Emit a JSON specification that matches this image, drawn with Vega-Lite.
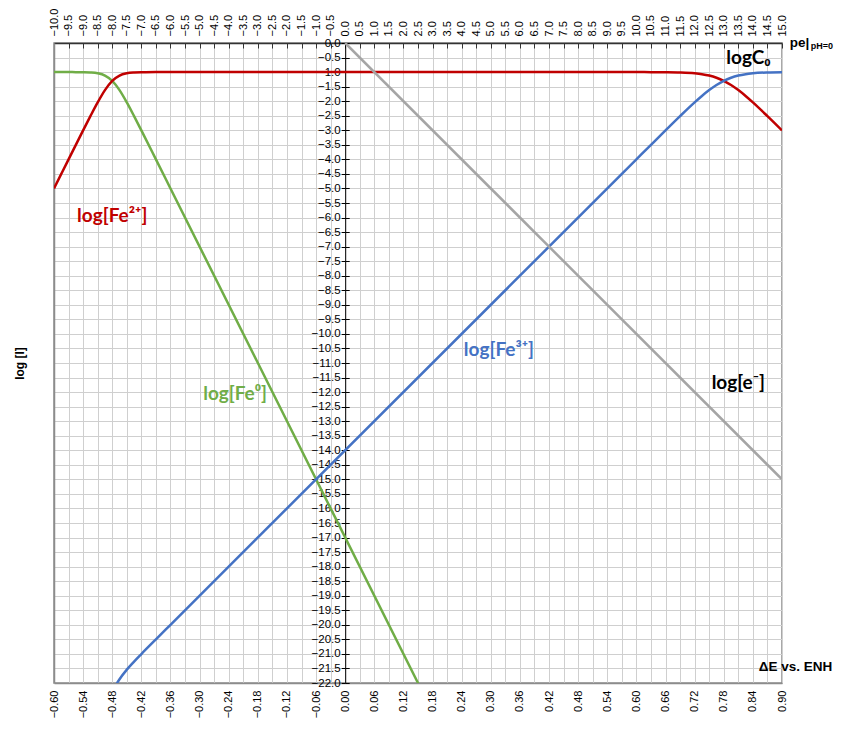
{
  "$schema": "https://vega.github.io/schema/vega-lite/v6.json",
  "width": 728,
  "height": 640,
  "autosize": {"type": "none"},
  "padding": {"left": 54, "top": 43, "right": 75, "bottom": 47},
  "background": "white",
  "config": {
    "font": "Liberation Sans",
    "view": {"stroke": "#8c8c8c", "strokeWidth": 1.5}
  },
  "datasets": {
    "curves": [
      {"pe": -10, "log": -1.0, "species": "Fe0"},
      {"pe": -9.75, "log": -1.0001, "species": "Fe0"},
      {"pe": -9.5, "log": -1.0004, "species": "Fe0"},
      {"pe": -9.25, "log": -1.0014, "species": "Fe0"},
      {"pe": -9, "log": -1.0043, "species": "Fe0"},
      {"pe": -8.75, "log": -1.0135, "species": "Fe0"},
      {"pe": -8.5, "log": -1.0414, "species": "Fe0"},
      {"pe": -8.25, "log": -1.1193, "species": "Fe0"},
      {"pe": -8, "log": -1.301, "species": "Fe0"},
      {"pe": -7.75, "log": -1.6193, "species": "Fe0"},
      {"pe": -7.5, "log": -2.0414, "species": "Fe0"},
      {"pe": -7.25, "log": -2.5135, "species": "Fe0"},
      {"pe": -7, "log": -3.0043, "species": "Fe0"},
      {"pe": -6.5, "log": -4.0004, "species": "Fe0"},
      {"pe": -6, "log": -5.0, "species": "Fe0"},
      {"pe": 2.5, "log": -22.0, "species": "Fe0"},
      {"pe": 3, "log": -23.0, "species": "Fe0"},

      {"pe": -10, "log": -5.0, "species": "Fe2"},
      {"pe": -9.75, "log": -4.5001, "species": "Fe2"},
      {"pe": -9.5, "log": -4.0004, "species": "Fe2"},
      {"pe": -9.25, "log": -3.5014, "species": "Fe2"},
      {"pe": -9, "log": -3.0043, "species": "Fe2"},
      {"pe": -8.75, "log": -2.5135, "species": "Fe2"},
      {"pe": -8.5, "log": -2.0414, "species": "Fe2"},
      {"pe": -8.25, "log": -1.6193, "species": "Fe2"},
      {"pe": -8, "log": -1.301, "species": "Fe2"},
      {"pe": -7.75, "log": -1.1193, "species": "Fe2"},
      {"pe": -7.5, "log": -1.0414, "species": "Fe2"},
      {"pe": -7.25, "log": -1.0135, "species": "Fe2"},
      {"pe": -7, "log": -1.0043, "species": "Fe2"},
      {"pe": -6.5, "log": -1.0004, "species": "Fe2"},
      {"pe": -6, "log": -1.0, "species": "Fe2"},
      {"pe": 10, "log": -1.0, "species": "Fe2"},
      {"pe": 10.5, "log": -1.0014, "species": "Fe2"},
      {"pe": 11, "log": -1.0043, "species": "Fe2"},
      {"pe": 11.5, "log": -1.0135, "species": "Fe2"},
      {"pe": 12, "log": -1.0414, "species": "Fe2"},
      {"pe": 12.25, "log": -1.0711, "species": "Fe2"},
      {"pe": 12.5, "log": -1.1193, "species": "Fe2"},
      {"pe": 12.75, "log": -1.1938, "species": "Fe2"},
      {"pe": 13, "log": -1.301, "species": "Fe2"},
      {"pe": 13.25, "log": -1.4438, "species": "Fe2"},
      {"pe": 13.5, "log": -1.6193, "species": "Fe2"},
      {"pe": 13.75, "log": -1.8211, "species": "Fe2"},
      {"pe": 14, "log": -2.0414, "species": "Fe2"},
      {"pe": 14.5, "log": -2.5135, "species": "Fe2"},
      {"pe": 15, "log": -3.0043, "species": "Fe2"},

      {"pe": -8.25, "log": -22.869, "species": "Fe3"},
      {"pe": -8, "log": -22.301, "species": "Fe3"},
      {"pe": -7.75, "log": -21.8693, "species": "Fe3"},
      {"pe": -7.5, "log": -21.5414, "species": "Fe3"},
      {"pe": -7.25, "log": -21.2635, "species": "Fe3"},
      {"pe": -7, "log": -21.0043, "species": "Fe3"},
      {"pe": -6.5, "log": -20.5004, "species": "Fe3"},
      {"pe": -6, "log": -20.0, "species": "Fe3"},
      {"pe": 10, "log": -4.0, "species": "Fe3"},
      {"pe": 10.5, "log": -3.5014, "species": "Fe3"},
      {"pe": 11, "log": -3.0043, "species": "Fe3"},
      {"pe": 11.5, "log": -2.5135, "species": "Fe3"},
      {"pe": 12, "log": -2.0414, "species": "Fe3"},
      {"pe": 12.25, "log": -1.8211, "species": "Fe3"},
      {"pe": 12.5, "log": -1.6193, "species": "Fe3"},
      {"pe": 12.75, "log": -1.4438, "species": "Fe3"},
      {"pe": 13, "log": -1.301, "species": "Fe3"},
      {"pe": 13.25, "log": -1.1938, "species": "Fe3"},
      {"pe": 13.5, "log": -1.1193, "species": "Fe3"},
      {"pe": 13.75, "log": -1.0711, "species": "Fe3"},
      {"pe": 14, "log": -1.0414, "species": "Fe3"},
      {"pe": 14.5, "log": -1.0135, "species": "Fe3"},
      {"pe": 15, "log": -1.0043, "species": "Fe3"}
    ],
    "electron": [
      {"pe": 0, "log": 0, "species": "e"},
      {"pe": 15, "log": -15, "species": "e"}
    ],
    "labels": [
      {"pe": -8.0, "log": -5.95, "text": "log[Fe²⁺]", "species": "Fe2"},
      {"pe": -3.78, "log": -12.05, "text": "log[Fe⁰]", "species": "Fe0"},
      {"pe": 5.28, "log": -10.55, "text": "log[Fe³⁺]", "species": "Fe3"},
      {"pe": 13.5, "log": -11.7, "text": "log[e⁻]", "species": "e"},
      {"pe": 13.85, "log": -0.5, "text": "logC₀", "species": "C0"}
    ],
    "titles": [
      {"pe": 15.27, "log": 0.0, "text": "pe|", "role": "main"},
      {"pe": 15.27, "log": 0.0, "text": "pH=0", "role": "sub"},
      {"pe": 14.2, "log": -21.45, "text": "ΔE vs. ENH", "role": "main"}
    ]
  },
  "layer": [
    {
      "data": {"name": "curves"},
      "mark": {"type": "line", "clip": true, "strokeWidth": 2.5, "interpolate": "monotone"},
      "encoding": {
        "x": {
          "field": "pe", "type": "quantitative",
          "scale": {"domain": [-10, 15], "nice": false, "zero": false},
          "axis": {
            "orient": "top", "title": null,
            "values": [-10,-9.5,-9,-8.5,-8,-7.5,-7,-6.5,-6,-5.5,-5,-4.5,-4,-3.5,-3,-2.5,-2,-1.5,-1,-0.5,0,0.5,1,1.5,2,2.5,3,3.5,4,4.5,5,5.5,6,6.5,7,7.5,8,8.5,9,9.5,10,10.5,11,11.5,12,12.5,13,13.5,14,14.5,15],
            "format": ".1f",
            "labelAngle": -90, "labelAlign": "left", "labelBaseline": "middle",
            "labelFontSize": 11, "labelColor": "#000000", "labelFont": "Liberation Sans",
            "labelOverlap": false, "labelFlush": false,
            "tickSize": -5, "tickColor": "#333333", "tickWidth": 1,
            "labelPadding": 12,
            "domainColor": "#333333", "domainWidth": 1.5,
            "grid": true, "gridColor": "#cfcfcf", "gridWidth": 1
          }
        },
        "y": {
          "field": "log", "type": "quantitative",
          "scale": {"domain": [-22, 0], "nice": false, "zero": false},
          "axis": {
            "orient": "left", "title": "log [I]",
            "titleFont": "Liberation Sans", "titleFontSize": 12, "titleFontWeight": "bold", "titleColor": "#000000",
            "titlePadding": 28,
            "values": [0,-0.5,-1,-1.5,-2,-2.5,-3,-3.5,-4,-4.5,-5,-5.5,-6,-6.5,-7,-7.5,-8,-8.5,-9,-9.5,-10,-10.5,-11,-11.5,-12,-12.5,-13,-13.5,-14,-14.5,-15,-15.5,-16,-16.5,-17,-17.5,-18,-18.5,-19,-19.5,-20,-20.5,-21,-21.5,-22],
            "labels": false, "ticks": false,
            "domainColor": "#8c8c8c", "domainWidth": 1.5,
            "grid": true, "gridColor": "#cfcfcf", "gridWidth": 1
          }
        },
        "color": {
          "field": "species", "type": "nominal",
          "scale": {"domain": ["Fe0", "Fe2", "Fe3"], "range": ["#70ad47", "#c00000", "#4472c4"]},
          "legend": null
        }
      }
    },
    {
      "data": {"name": "electron"},
      "mark": {"type": "line", "clip": true, "strokeWidth": 2.5, "color": "#a5a5a5"},
      "encoding": {
        "x": {"field": "pe", "type": "quantitative", "axis": null},
        "y": {
          "field": "log", "type": "quantitative",
          "axis": {
            "orient": "right", "offset": -436.8, "title": null,
            "values": [0,-0.5,-1,-1.5,-2,-2.5,-3,-3.5,-4,-4.5,-5,-5.5,-6,-6.5,-7,-7.5,-8,-8.5,-9,-9.5,-10,-10.5,-11,-11.5,-12,-12.5,-13,-13.5,-14,-14.5,-15,-15.5,-16,-16.5,-17,-17.5,-18,-18.5,-19,-19.5,-20,-20.5,-21,-21.5,-22],
            "labels": false, "domain": false, "grid": false,
            "tickSize": 4, "tickColor": "#000000", "tickWidth": 1
          }
        }
      }
    },
    {
      "data": {"name": "labels"},
      "mark": {"type": "text", "font": "Lato", "fontWeight": "bold", "fontSize": 19, "align": "center", "baseline": "middle"},
      "encoding": {
        "x": {
          "field": "pe", "type": "quantitative",
          "axis": {
            "orient": "bottom", "title": null,
            "values": [-10,-9,-8,-7,-6,-5,-4,-3,-2,-1,0,1,2,3,4,5,6,7,8,9,10,11,12,13,14,15],
            "labelExpr": "format(datum.value * 0.06, '.2f')",
            "labelAngle": -90, "labelAlign": "right", "labelBaseline": "middle",
            "labelFontSize": 11, "labelColor": "#000000", "labelFont": "Liberation Sans",
            "labelOverlap": false, "labelFlush": false,
            "ticks": false, "labelPadding": 7,
            "domainColor": "#8c8c8c", "domainWidth": 1.5,
            "grid": false
          }
        },
        "y": {
          "field": "log", "type": "quantitative",
          "axis": {
            "orient": "left", "offset": -291.2, "title": null,
            "values": [0,-0.5,-1,-1.5,-2,-2.5,-3,-3.5,-4,-4.5,-5,-5.5,-6,-6.5,-7,-7.5,-8,-8.5,-9,-9.5,-10,-10.5,-11,-11.5,-12,-12.5,-13,-13.5,-14,-14.5,-15,-15.5,-16,-16.5,-17,-17.5,-18,-18.5,-19,-19.5,-20,-20.5,-21,-21.5,-22],
            "format": ".1f",
            "labelFontSize": 11.5, "labelColor": "#000000", "labelFont": "Liberation Sans",
            "labelOverlap": false, "labelFlush": false,
            "tickSize": 4, "tickColor": "#000000", "tickWidth": 1, "labelPadding": 1,
            "domainColor": "#000000", "domainWidth": 1,
            "grid": false
          }
        },
        "text": {"field": "text"},
        "color": {
          "field": "species", "type": "nominal",
          "scale": {"domain": ["Fe0", "Fe2", "Fe3", "e", "C0"], "range": ["#70ad47", "#c00000", "#4472c4", "#000000", "#000000"]},
          "legend": null
        }
      }
    },
    {
      "data": {"name": "titles"},
      "transform": [{"filter": "datum.role === 'main'"}],
      "mark": {"type": "text", "font": "Liberation Sans", "fontWeight": "bold", "fontSize": 13.5, "align": "left", "baseline": "middle", "color": "#000000"},
      "encoding": {
        "x": {"field": "pe", "type": "quantitative", "axis": null},
        "y": {"field": "log", "type": "quantitative", "axis": null},
        "text": {"field": "text"}
      }
    },
    {
      "data": {"name": "titles"},
      "transform": [{"filter": "datum.role === 'sub'"}],
      "mark": {"type": "text", "font": "Liberation Sans", "fontWeight": "bold", "fontSize": 9, "align": "left", "baseline": "middle", "dx": 21, "dy": 3, "color": "#000000"},
      "encoding": {
        "x": {"field": "pe", "type": "quantitative", "axis": null},
        "y": {"field": "log", "type": "quantitative", "axis": null},
        "text": {"field": "text"}
      }
    }
  ],
  "resolve": {
    "axis": {"x": "independent", "y": "independent"},
    "scale": {"color": "independent"}
  }
}
